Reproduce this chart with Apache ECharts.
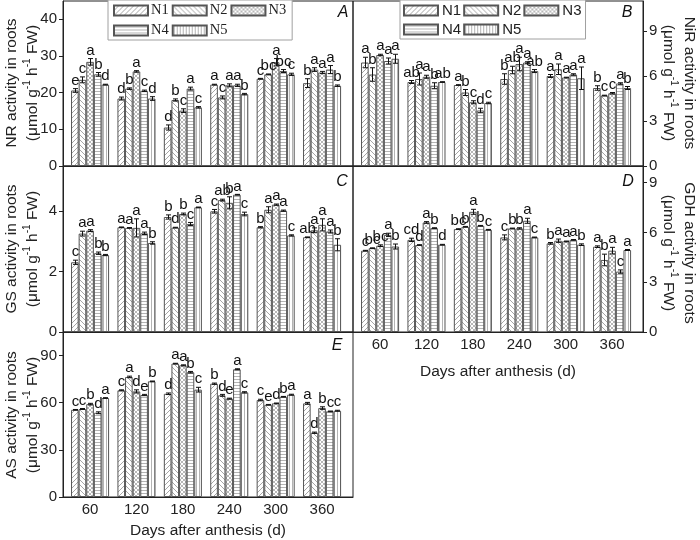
<!DOCTYPE html>
<html><head><meta charset="utf-8">
<script src="https://cdn.jsdelivr.net/npm/echarts@6/dist/echarts.min.js"></script>
<style>html,body{margin:0;padding:0;background:#fff}#c{width:700px;height:540px}</style>
</head><body><div id="c"></div>
<script>
const days = [60, 120, 180, 240, 300, 360];
const treatments = ['N1', 'N2', 'N3', 'N4', 'N5'];

// rows = N1..N5, columns = days
const nrMean = [
  [20.6, 18.4, 10.5, 22.2, 23.8, 22.6],
  [23.5, 21.1, 18.0, 18.7, 25.0, 26.3],
  [28.4, 25.8, 15.1, 22.0, 28.3, 25.5],
  [25.0, 20.5, 21.1, 22.0, 25.9, 26.3],
  [22.2, 18.4, 16.0, 19.6, 25.0, 21.9]];
const nrErr = [
  [0.5, 0.4, 0.7, 0.1, 0.1, 1.2],
  [0.8, 0.2, 0.3, 0.4, 0.1, 0.5],
  [0.9, 0.2, 0.5, 0.4, 1.0, 0.3],
  [0.5, 0.2, 0.4, 0.3, 0.4, 1.1],
  [0.1, 0.5, 0.2, 0.2, 0.3, 0.2]];
const nrLetters = [
  ['e','d','d','a','c','b'],
  ['c','b','b','c','bc','a'],
  ['a','a','c','a','a','a'],
  ['b','c','a','a','bc','a'],
  ['d','d','c','b','c','b']];

const nirMean = [
  [6.9, 5.6, 5.4, 5.8, 6.0, 5.2],
  [6.1, 5.8, 4.9, 6.4, 6.45, 4.7],
  [7.4, 5.95, 4.25, 6.8, 5.9, 4.85],
  [7.0, 5.35, 3.7, 6.9, 6.1, 5.5],
  [7.15, 5.6, 4.2, 6.33, 5.85, 5.2]];
const nirErr = [
  [0.35, 0.1, 0.02, 0.35, 0.1, 0.15],
  [0.45, 0.4, 0.2, 0.25, 0.35, 0.02],
  [0.05, 0.1, 0.1, 0.45, 0.02, 0.05],
  [0.2, 0.2, 0.15, 0.05, 0.05, 0.05],
  [0.3, 0.02, 0.05, 0.1, 0.75, 0.1]];
const nirLetters = [
  ['a','ab','a','b','a','b'],
  ['b','a','b','ab','a','c'],
  ['a','a','c','a','a','c'],
  ['a','b','d','a','a','a'],
  ['a','ab','c','ab','a','b']];

const gsMean = [
  [2.31, 3.47, 3.81, 4.0, 3.47, 3.14],
  [3.26, 3.45, 3.46, 4.37, 4.05, 3.37],
  [3.36, 3.45, 3.91, 4.28, 4.22, 3.55],
  [2.61, 3.27, 3.58, 4.55, 4.02, 3.33],
  [2.55, 2.95, 4.13, 3.91, 3.2, 2.89]];
const gsErr = [
  [0.07, 0.01, 0.07, 0.06, 0.02, 0.01],
  [0.08, 0.01, 0.01, 0.03, 0.1, 0.08],
  [0.03, 0.3, 0.03, 0.2, 0.02, 0.2],
  [0.04, 0.04, 0.05, 0.01, 0.02, 0.05],
  [0.02, 0.04, 0.01, 0.06, 0.02, 0.2]];
const gsLetters = [
  ['c','a','b','c','b','ab'],
  ['a','a','d','ab','a','a'],
  ['a','a','b','b','a','a'],
  ['b','a','c','a','a','a'],
  ['b','b','a','c','c','b']];

const gdhMean = [
  [4.9, 5.55, 6.2, 5.7, 5.34, 5.14],
  [5.05, 5.24, 6.34, 6.24, 5.5, 4.34],
  [5.2, 6.6, 7.24, 6.24, 5.46, 4.9],
  [5.85, 6.26, 6.4, 6.7, 5.55, 3.64],
  [5.15, 5.26, 6.16, 5.7, 5.26, 4.94]];
const gdhErr = [
  [0.02, 0.1, 0.02, 0.15, 0.05, 0.05],
  [0.02, 0.02, 0.02, 0.02, 0.1, 0.35],
  [0.05, 0.05, 0.15, 0.04, 0.02, 0.2],
  [0.1, 0.02, 0.02, 0.15, 0.02, 0.1],
  [0.15, 0.02, 0.02, 0.02, 0.05, 0.03]];
const gdhLetters = [
  ['c','cd','bc','c','b','a'],
  ['bc','d','b','b','a','b'],
  ['bc','a','a','b','a','a'],
  ['a','b','b','a','a','c'],
  ['b','d','c','c','b','a']];

const asMean = [
  [55.5, 67.9, 65.7, 72.1, 61.7, 59.6],
  [56.0, 76.4, 84.9, 64.7, 58.7, 40.9],
  [59.1, 67.2, 83.8, 62.6, 59.6, 56.6],
  [53.6, 64.9, 79.4, 81.3, 63.8, 54.5],
  [63.0, 73.6, 68.3, 66.6, 65.1, 54.9]];
const asErr = [
  [0.2, 0.3, 0.5, 0.4, 0.5, 0.6],
  [0.3, 0.5, 0.2, 0.6, 0.2, 0.4],
  [0.5, 1.0, 0.3, 0.3, 0.2, 0.8],
  [0.6, 0.4, 0.5, 0.3, 0.2, 0.2],
  [0.2, 0.2, 1.5, 0.4, 0.3, 0.3]];
const asLetters = [
  ['c','c','d','b','c','a'],
  ['c','a','a','d','e','d'],
  ['b','d','a','e','d','b'],
  ['d','e','b','a','b','c'],
  ['a','b','c','c','a','c']];

const panelLetters = ['A', 'B', 'C', 'D', 'E'];
const yNames = ['NR', 'NiR', 'GS', 'GDH', 'AS'];

// ---- layout / style ----
const FONT = 'Liberation Sans';
const panels = [
  {mean: nrMean, err: nrErr, letters: nrLetters, max: 45, interval: 10, left: 63, top: 1, h: 165, side: 'left', title: [22, 83]},
  {mean: nirMean, err: nirErr, letters: nirLetters, max: 11, interval: 3, left: 353, top: 1, h: 165, side: 'right', title: [679, 83]},
  {mean: gsMean, err: gsErr, letters: gsLetters, max: 5.5, interval: 2, left: 63, top: 166, h: 166, side: 'left', title: [22, 249]},
  {mean: gdhMean, err: gdhErr, letters: gdhLetters, max: 10, interval: 3, left: 353, top: 166, h: 166, side: 'right', title: [679, 253]},
  {mean: asMean, err: asErr, letters: asLetters, max: 105, interval: 30, left: 63, top: 332, h: 166, side: 'left', title: [22, 415]}
];
const CAT_GAP = 0.18;

function makePattern(kind) {
  const S = kind === 'horiz' || kind === 'vert' ? 3 : (kind === 'cross' ? 4 : 5);
  const c = document.createElement('canvas');
  c.width = S; c.height = S;
  const g = c.getContext('2d');
  g.fillStyle = '#fff'; g.fillRect(0, 0, S, S);
  g.strokeStyle = '#a6a6a6'; g.fillStyle = '#b4b4b4'; g.lineWidth = 1;
  const fwd = () => { g.beginPath(); g.moveTo(0, S); g.lineTo(S, 0); g.moveTo(-1, 1); g.lineTo(1, -1); g.moveTo(S - 1, S + 1); g.lineTo(S + 1, S - 1); g.stroke(); };
  const back = () => { g.beginPath(); g.moveTo(0, 0); g.lineTo(S, S); g.moveTo(-1, S - 1); g.lineTo(1, S + 1); g.moveTo(S - 1, -1); g.lineTo(S + 1, 1); g.stroke(); };
  if (kind === 'fwd') fwd();
  else if (kind === 'back') back();
  else if (kind === 'cross') { g.strokeStyle = '#b8b8b8'; fwd(); back(); }
  else if (kind === 'horiz') g.fillRect(0, 1, S, 1);
  else if (kind === 'vert') g.fillRect(1, 0, 1, S);
  return {image: c, repeat: 'repeat'};
}
const patterns = ['fwd', 'back', 'cross', 'horiz', 'vert'].map(makePattern);

function yTitle(p) {
  return '{t|' + yNames[p] + ' activity in roots}\n{t|(\u03bcmol g}{s|-1}{t| h}{s|-1}{t| FW)}';
}
const titleRich = {
  t: {fontSize: 15.5, lineHeight: 21, fontFamily: FONT, color: '#222'},
  s: {fontSize: 10, lineHeight: 11, verticalAlign: 'top', fontFamily: FONT, color: '#222'}
};

const grids = [], xAxes = [], yAxes = [], series = [];
panels.forEach((P, p) => {
  grids.push({left: P.left, top: P.top, width: 290, height: P.h, show: true, borderColor: '#222', borderWidth: 1, containLabel: false});
  const showX = p === 3 || p === 4;
  xAxes.push({
    type: 'value', gridIndex: p, min: 25, max: 400,
    axisLine: {show: true, lineStyle: {color: '#222'}},
    axisTick: {show: false}, splitLine: {show: false},
    axisLabel: {show: showX, customValues: days, fontSize: 15, color: '#222', margin: 5, fontFamily: FONT},
    name: showX ? 'Days after anthesis (d)' : '',
    nameLocation: 'middle', nameGap: p === 3 ? 32 : 26,
    nameTextStyle: {fontSize: 15.5, color: '#222', fontFamily: FONT}
  });
  yAxes.push({
    type: 'value', gridIndex: p, min: 0, max: P.max, interval: P.interval, position: P.side,
    axisLine: {show: true, lineStyle: {color: '#222'}},
    axisTick: {show: true, length: 4, lineStyle: {color: '#222'}},
    splitLine: {show: false},
    axisLabel: {fontSize: 15, color: '#222', margin: 6, showMaxLabel: false, fontFamily: FONT}
  });
  treatments.forEach((t, i) => {
    series.push({
      type: 'bar', name: t, xAxisIndex: p, yAxisIndex: p,
      data: days.map((d, j) => [d, P.mean[i][j]]),
      barGap: '0%', barCategoryGap: (CAT_GAP * 100) + '%',
      itemStyle: {color: patterns[i], borderColor: '#555', borderWidth: 1},
      emphasis: {disabled: true}, silent: true
    });
  });
  treatments.forEach((t, i) => {
    series.push({
      type: 'custom', xAxisIndex: p, yAxisIndex: p, z: 10, silent: true,
      data: days.map((d, j) => [d, P.mean[i][j], P.err[i][j]]),
      renderItem: function (params, api) {
        const x = api.value(0), y = api.value(1), e = api.value(2);
        const band = api.size([60, 0])[0];
        const bw = band * (1 - CAT_GAP) / 5;
        const cx = Math.round(api.coord([x, y])[0] + (i - 2) * bw) + 0.5;
        const yt = api.coord([x, y + e])[1], yb = api.coord([x, y - e])[1];
        const ls = {stroke: '#111', lineWidth: 1};
        return {type: 'group', children: [
          {type: 'line', shape: {x1: cx, y1: yt, x2: cx, y2: yb}, style: ls},
          {type: 'line', shape: {x1: cx - 2.5, y1: yt, x2: cx + 2.5, y2: yt}, style: ls},
          {type: 'line', shape: {x1: cx - 2.5, y1: yb, x2: cx + 2.5, y2: yb}, style: ls},
          {type: 'text', style: {text: P.letters[i][params.dataIndex], x: cx, y: yt - 0.5,
            align: 'center', verticalAlign: 'bottom', fontSize: 15, fontFamily: FONT, fill: '#111'}}
        ]};
      }
    });
  });
});

const legendBase = {
  data: treatments, itemWidth: 34, itemHeight: 10, icon: 'rect', selectedMode: false,
  borderColor: '#a0a0a0', borderWidth: 1, backgroundColor: '#fff', top: 0
};
const legends = [
  Object.assign({}, legendBase, {left: 108, width: 178, itemGap: 3, padding: [2, 6, 1, 5],
    textStyle: {fontFamily: 'Liberation Serif', fontSize: 14.5, color: '#222', lineHeight: 17, padding: [0, 0, 0, -2]}}),
  Object.assign({}, legendBase, {left: 400, width: 184, itemGap: 2, padding: [2, 4, 1, 3],
    textStyle: {fontFamily: FONT, fontSize: 15, color: '#222', lineHeight: 17, padding: [0, 0, 0, -1]}})
];

const labelPos = [[343, 13], [627, 13], [342, 182], [628, 182], [337, 346]];
const graphics = panelLetters.map((L, k) => ({
  type: 'text', x: labelPos[k][0], y: labelPos[k][1], z: 100,
  style: {text: L, align: 'center', verticalAlign: 'middle', font: 'italic 16px "Liberation Sans"', fill: '#111'}
}));
panels.forEach((P, p) => {
  graphics.push({
    type: 'text', x: P.title[0], y: P.title[1], z: 100,
    rotation: P.side === 'left' ? Math.PI / 2 : -Math.PI / 2,
    style: {text: yTitle(p), rich: titleRich, align: 'center', verticalAlign: 'middle', fontFamily: FONT, fill: '#222'}
  });
});

const chart = echarts.init(document.getElementById('c'), null, {renderer: 'canvas'});
chart.setOption({
  animation: false,
  textStyle: {fontFamily: FONT},
  grid: grids, xAxis: xAxes, yAxis: yAxes, series: series,
  legend: legends, graphic: graphics
});
</script></body></html>
